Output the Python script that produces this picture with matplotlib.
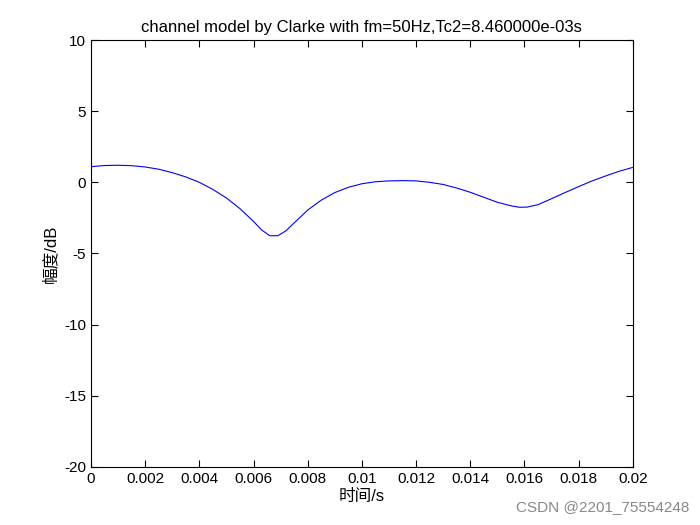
import matplotlib

matplotlib.use("Agg", force=True)
import matplotlib.pyplot as plt

plt.rcParams["font.family"] = ["Liberation Sans", "Noto Sans CJK SC", "DejaVu Sans"]
plt.rcParams["axes.unicode_minus"] = False

# readings (time in s, amplitude in dB)
t = [0.0, 0.0005, 0.001, 0.0015, 0.002, 0.0025, 0.003, 0.0035, 0.004, 0.0045,
     0.005, 0.0055, 0.006, 0.0063, 0.0066, 0.0069, 0.0072, 0.0075, 0.008, 0.0085,
     0.009, 0.0095, 0.010, 0.0105, 0.011, 0.0115, 0.012, 0.0125, 0.013, 0.0135,
     0.014, 0.0145, 0.015, 0.0155, 0.0158, 0.0161, 0.0165, 0.017, 0.0175, 0.018,
     0.0185, 0.019, 0.0195, 0.020]
amp = [1.1, 1.18, 1.2, 1.17, 1.08, 0.92, 0.68, 0.38, 0.0, -0.5,
       -1.1, -1.85, -2.75, -3.35, -3.75, -3.75, -3.4, -2.85, -1.95, -1.25,
       -0.72, -0.35, -0.1, 0.04, 0.1, 0.12, 0.1, 0.0, -0.15, -0.4,
       -0.7, -1.05, -1.4, -1.65, -1.75, -1.74, -1.57, -1.15, -0.72, -0.3,
       0.1, 0.45, 0.78, 1.05]

fig = plt.figure(figsize=(7, 5.25), dpi=100)
ax = fig.add_axes([0.13, 0.1105, 0.774, 0.8133])
ax.plot(t, amp, color="#0000ff", linewidth=0.8)
ax.set_xlim(0, 0.02)
ax.set_ylim(-20, 10)
ax.set_xticks([i * 0.002 for i in range(11)])
ax.set_xticklabels(["0", "0.002", "0.004", "0.006", "0.008", "0.01",
                    "0.012", "0.014", "0.016", "0.018", "0.02"])
ax.set_yticks(range(-20, 11, 5))
ax.tick_params(direction="in", top=True, right=True, labelsize=11, length=5)
ax.set_xlabel("时间/s", fontsize=12, labelpad=2)
ax.set_ylabel("幅度/dB", fontsize=12)
ax.set_title("channel model by Clarke with fm=50Hz,Tc2=8.460000e-03s", fontsize=12)
fig.text(0.985, 0.02, "CSDN @2201_75554248", ha="right", va="bottom",
         fontsize=11, color="#888888")
fig.savefig("out.png", dpi=100)
